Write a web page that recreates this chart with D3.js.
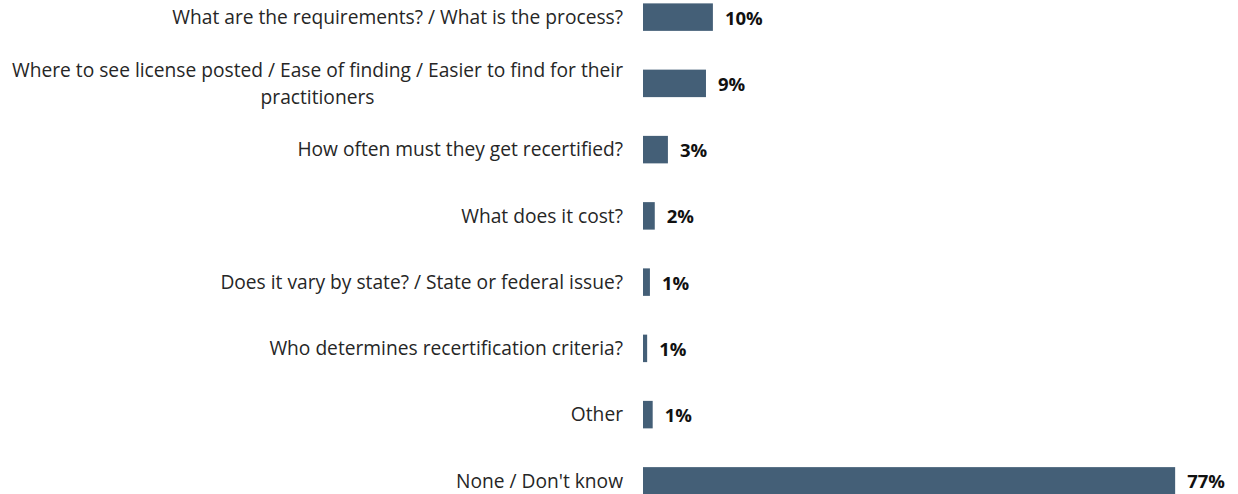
<!DOCTYPE html>
<html lang="en">
<head>
  <meta charset="utf-8">
  <script src="https://d3js.org/d3.v7.min.js"></script>
  <style>
    body { margin: 0; background: #fff; }
    .label { font-family: "Open Sans", sans-serif; font-size: 19.2px; fill: #262626; }
    .value { font-family: "Open Sans", sans-serif; font-size: 18.5px; font-weight: bold; fill: #111; }
  </style>
</head>
<body>
  <svg id="chart" width="1238" height="494"></svg>
  <script>
    // categories (each entry is one or more text lines)
    const categories = [
      ["What are the requirements? / What is the process?"],
      ["Where to see license posted / Ease of finding / Easier to find for their", "practitioners"],
      ["How often must they get recertified?"],
      ["What does it cost?"],
      ["Does it vary by state? / State or federal issue?"],
      ["Who determines recertification criteria?"],
      ["Other"],
      ["None / Don't know"]
    ];
    // values as drawn (bar lengths), and printed labels
    const values = [10.1, 9.1, 3.6, 1.7, 1.0, 0.6, 1.4, 76.9];
    const valueLabels = ["10%", "9%", "3%", "2%", "1%", "1%", "1%", "77%"];

    const svg = d3.select("#chart");
    const barLeft = 643;

    let x = d3.scaleLinear().domain([0, 100]).range([barLeft, barLeft + 692]);
    let y = d3.scaleBand()
      .domain(d3.range(categories.length))
      .range([-16, 514])
      .paddingInner(0.585)
      .paddingOuter(0.2925);

    let g = svg.append("g");

    g.selectAll("rect").data(values)
      .enter()
      .append("rect")
      .attr("x", x(0))
      .attr("y", (d, i) => y(i))
      .attr("width", d => x(d) - x(0))
      .attr("height", y.bandwidth())
      .attr("fill", "#445f77");

    g.selectAll(".value").data(values)
      .enter()
      .append("text")
      .attr("class", "value")
      .attr("x", d => x(d) + 12)
      .attr("y", (d, i) => y(i) + y.bandwidth() / 2 + 1)
      .attr("dy", "0.35em")
      .text((d, i) => valueLabels[i]);

    // category labels, right aligned; extra lines centred under the first
    const lineHeight = 27;
    categories.forEach((lines, i) => {
      let cy = y(i) + y.bandwidth() / 2;
      let top = cy - (lines.length - 1) * lineHeight / 2;
      let first = g.append("text")
        .attr("class", "label")
        .attr("x", barLeft - 20)
        .attr("y", top)
        .attr("dy", "0.35em")
        .attr("text-anchor", "end")
        .text(lines[0]);
      let w = first.node().getComputedTextLength();
      lines.slice(1).forEach((ln, j) => {
        g.append("text")
          .attr("class", "label")
          .attr("x", barLeft - 20 - w / 2)
          .attr("y", top + (j + 1) * lineHeight)
          .attr("dy", "0.35em")
          .attr("text-anchor", "middle")
          .text(ln);
      });
    });
  </script>
</body>
</html>
